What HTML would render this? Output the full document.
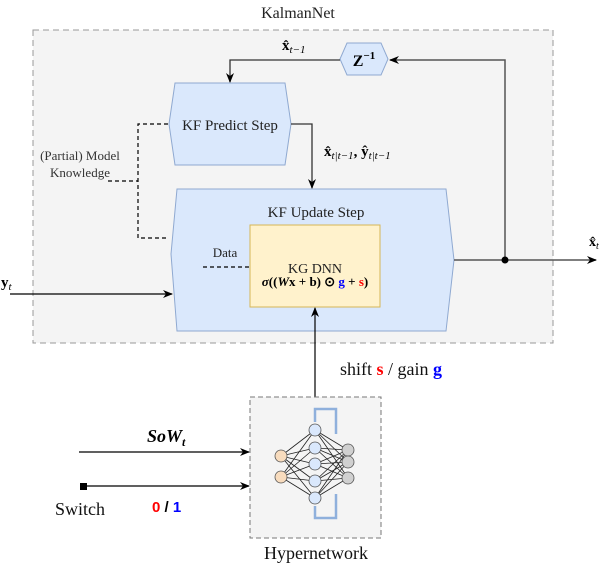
<!DOCTYPE html>
<html><head><meta charset="utf-8"><style>
html,body{margin:0;padding:0;background:#fff;}
text{font-family:"Liberation Serif",serif;}
</style></head><body>
<svg width="606" height="566" viewBox="0 0 606 566" xmlns="http://www.w3.org/2000/svg" font-family="Liberation Serif, serif">
<defs>
<marker id="ar" markerWidth="10" markerHeight="8" refX="9" refY="4" orient="auto" markerUnits="userSpaceOnUse"><path d="M0,0 L10,4 L0,8 L3,4 z" fill="#000"/></marker>
</defs>
<rect x="33" y="30" width="520" height="313" fill="#f4f4f4" stroke="#999" stroke-dasharray="6,4"/>
<text x="298" y="18" font-size="16" text-anchor="middle" fill="#222">KalmanNet</text>

<polygon points="347,43 381,43 388,59 381,75 347,75 340,59" fill="#dae8fc" stroke="#8fa9d1"/>
<text x="364" y="66" font-size="16" font-weight="bold" text-anchor="middle">Z<tspan font-size="11" dy="-7">−1</tspan></text>
<polygon points="175,83 285,83 291,124 285,165 175,165 169,124" fill="#dae8fc" stroke="#8fa9d1"/>
<text x="230" y="130" font-size="15" text-anchor="middle" fill="#222">KF Predict Step</text>
<polygon points="177,189 446,189 454,260 446,331 177,331 171,254" fill="#dae8fc" stroke="#8fa9d1"/>
<text x="316" y="217" font-size="15" text-anchor="middle" fill="#222">KF Update Step</text>
<rect x="250" y="225" width="130" height="82" fill="#fff2cc" stroke="#d6b656"/>
<text x="315" y="273" font-size="14" text-anchor="middle" fill="#222">KG DNN</text>
<text x="315" y="286" font-size="13" font-weight="bold" text-anchor="middle"><tspan font-style="italic">σ</tspan>((<tspan font-style="italic">W</tspan>x + b) ⊙ <tspan fill="#0000ff">g</tspan> + <tspan fill="#ff0000">s</tspan>)</text>
<text x="225" y="257" font-size="13" text-anchor="middle" fill="#222">Data</text>
<line x1="203" y1="267" x2="250" y2="267" stroke="#000" stroke-dasharray="4,3" stroke-width="1.3"/>

<polyline points="454,260 505,260 505,60 390,60" fill="none" stroke="#555" stroke-width="1.5" marker-end="url(#ar)"/>
<line x1="505" y1="260" x2="596" y2="260" stroke="#555" stroke-width="1.5" marker-end="url(#ar)"/>
<circle cx="505" cy="260" r="3.5" fill="#000"/>
<text x="589" y="246" font-size="14" font-weight="bold">x̂<tspan font-size="10" dy="3" font-style="italic" font-weight="normal">t</tspan></text>
<polyline points="340,60 230,60 230,82" fill="none" stroke="#333" stroke-width="1.3" marker-end="url(#ar)"/>
<text x="282" y="50" font-size="15" font-weight="bold">x̂<tspan font-size="11" dy="3" font-style="italic" font-weight="normal">t−1</tspan></text>
<polyline points="291,124 312,124 312,188" fill="none" stroke="#333" stroke-width="1.3" marker-end="url(#ar)"/>
<text x="324" y="156" font-size="15" font-weight="bold">x̂<tspan font-size="11" dy="3" font-style="italic" font-weight="normal">t|t−1</tspan><tspan dy="-3">, ŷ</tspan><tspan font-size="11" dy="3" font-style="italic" font-weight="normal">t|t−1</tspan></text>
<line x1="10" y1="294" x2="172" y2="294" stroke="#000" stroke-width="1.2" marker-end="url(#ar)"/>
<text x="1" y="287" font-size="15" font-weight="bold">y<tspan font-size="11" dy="3" font-style="italic" font-weight="normal">t</tspan></text>
<polyline points="168,124 138,124 138,238 168,238" fill="none" stroke="#000" stroke-dasharray="4,3" stroke-width="1.2"/>
<line x1="108" y1="181" x2="138" y2="181" stroke="#000" stroke-dasharray="4,3" stroke-width="1.2"/>
<text x="80" y="160" font-size="13" text-anchor="middle" fill="#333">(Partial) Model</text>
<text x="80" y="177" font-size="13" text-anchor="middle" fill="#333">Knowledge</text>

<line x1="315" y1="397" x2="315" y2="308" stroke="#000" stroke-width="1.2" marker-end="url(#ar)"/>
<text x="340" y="375" font-size="18" fill="#111">shift <tspan fill="#ff0000" font-weight="bold">s</tspan> / gain <tspan fill="#0000ff" font-weight="bold">g</tspan></text>
<rect x="250" y="397" width="131" height="141" fill="#f4f4f4" stroke="#777" stroke-dasharray="5,3"/>
<text x="316" y="559" font-size="18" text-anchor="middle" fill="#111">Hypernetwork</text>
<line x1="79" y1="452" x2="249" y2="452" stroke="#000" stroke-width="1.2" marker-end="url(#ar)"/>
<text x="147" y="442" font-size="18" font-weight="bold" font-style="italic">SoW<tspan font-size="12" dy="4">t</tspan></text>
<rect x="80" y="483" width="7" height="7" fill="#000"/>
<line x1="87" y1="486" x2="249" y2="486" stroke="#000" stroke-width="1.2" marker-end="url(#ar)"/>
<text x="55" y="515" font-size="18" fill="#111">Switch</text>
<text x="152" y="512" font-size="15" font-weight="bold" style="font-family:'Liberation Sans',sans-serif"><tspan fill="#ff0000">0</tspan> / <tspan fill="#0000ff">1</tspan></text>
<g stroke="#222" stroke-width="0.8">
<path d="M281,456 L315,430 M281,456 L315,448 M281,456 L315,464 M281,456 L315,481 M281,456 L315,498 M281,477 L315,430 M281,477 L315,448 M281,477 L315,464 M281,477 L315,481 M281,477 L315,498"/>
<path d="M315,430 L348,450 M315,430 L348,462 M315,430 L348,478 M315,448 L348,450 M315,448 L348,462 M315,448 L348,478 M315,464 L348,450 M315,464 L348,462 M315,464 L348,478 M315,481 L348,450 M315,481 L348,462 M315,481 L348,478 M315,498 L348,450 M315,498 L348,462 M315,498 L348,478"/>
</g>
<g fill="none" stroke="#8fb0dc" stroke-width="2.5">
<polyline points="315,422 315,409 336,409 336,434"/>
<polyline points="315,506 315,518 336,518 336,494"/>
</g>
<g stroke="#555" stroke-width="0.8">
<circle cx="281" cy="456" r="6" fill="#f8dcbe"/><circle cx="281" cy="477" r="6" fill="#f8dcbe"/>
<circle cx="315" cy="430" r="6" fill="#dae8fc"/><circle cx="315" cy="448" r="6" fill="#dae8fc"/><circle cx="315" cy="464" r="6" fill="#dae8fc"/><circle cx="315" cy="481" r="6" fill="#dae8fc"/><circle cx="315" cy="498" r="6" fill="#dae8fc"/>
<circle cx="348" cy="450" r="6" fill="#d0d0d0"/><circle cx="348" cy="462" r="6" fill="#d0d0d0"/><circle cx="348" cy="478" r="6" fill="#d0d0d0"/>
</g>
</svg>
</body></html>
